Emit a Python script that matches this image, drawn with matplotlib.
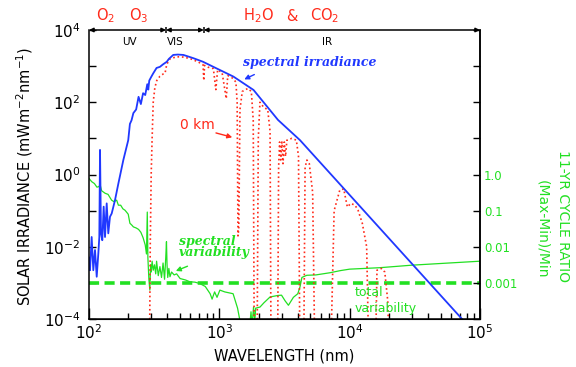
import numpy as np
import matplotlib
matplotlib.use("Agg")
import matplotlib.pyplot as plt
from matplotlib.ticker import FixedLocator, FuncFormatter, LogLocator, NullFormatter, NullLocator

# values (wavelength in nm, log10 of the quantity)
# spectral irradiance, mW m^-2 nm^-1
wl_irr = [100, 101.8, 104.8, 107.9, 111.2, 114.6, 117.9, 120, 121.5, 123.6, 126.5,
          129.6, 132.7, 136.7, 140.6, 144.9, 149.3, 158.3, 168, 183.4, 200, 206,
          212, 219, 230, 240, 250, 260, 270, 280, 285, 290, 300, 311, 330, 350,
          370, 395, 410, 443, 480, 530, 632, 750, 900, 1283, 1830, 2820, 4160,
          70300, 100000]
log_irr = [-2.3, -2.65, -1.73, -2.65, -2.09, -2.83, -2.19, -1.73, 0.68, -1.63, -1.82,
           -0.89, -1.73, -0.80, -1.63, -1.17, -1.08, -0.71, -0.25, 0.40, 0.95, 1.4,
           1.5, 1.7, 1.8, 2.15, 1.95, 2.25, 2.2, 2.5, 2.35, 2.6, 2.7, 2.8, 2.95, 2.98,
           3.05, 3.12, 3.2, 3.31, 3.32, 3.31, 3.22, 3.12, 2.98, 2.71, 2.34, 1.51, 0.95,
           -3.94, -4.55]

# irradiance at the surface (0 km)
wl_0km = [290, 295, 300, 305, 311, 320, 331, 350, 370, 383, 395, 418, 470, 530,
          595, 685, 750, 760, 770, 820, 900, 940, 970, 1050, 1130, 1160, 1250,
          1340, 1370, 1390, 1410, 1440, 1500, 1650, 1760, 1820, 1860, 1940, 1990,
          2050, 2200, 2350, 2450, 2500, 2790, 2850, 2900, 2960, 3020, 3080, 3150,
          3220, 3300, 3600, 3900, 4050, 4170, 4420, 4550, 4700, 4900, 5200, 5450,
          7050, 7600, 8400, 9000, 9600, 10200, 11000, 11600, 12500, 13500, 14200,
          15600, 16200, 17500, 18600, 19600, 20500]
log_0km = [-6, -2.0, 0.0, 1.0, 2.0, 2.4, 2.6, 2.72, 2.78, 2.8, 3.05, 3.2, 3.26, 3.25,
           3.21, 3.12, 3.04, 2.6, 3.02, 2.97, 2.93, 2.35, 2.9, 2.82, 2.1, 2.74, 2.68,
           2.56, 2.0, -1.7, -1.5, 1.8, 2.3, 2.38, 2.3, 1.5, -6, -6, 1.0,
           2.0, 1.85, 1.8, 1.2, -6, -6, 0.2, 0.9, 0.4, 0.9, 0.3, 0.9,
           0.5, 0.95, 1.0, 0.95, 0.5, -6, -6, 0.2, 0.4, 0.3, -0.5, -6,
           -6, -1.0, -0.43, -0.4, -0.9, -0.8, -0.85, -0.99, -1.35, -2.0, -6,
           -6, -2.65, -2.6, -2.7, -3.5, -6]

# 11-yr cycle ratio (Max-Min)/Min
wl_var = [100, 105, 110, 115, 118, 122, 125, 133, 140, 149, 155, 163, 168, 175, 182,
          189, 195, 200, 206, 213, 219, 230, 240, 250, 260, 270, 276, 280, 283, 288,
          293, 297, 300, 305, 311, 318, 325, 330, 340, 350, 360, 370, 380, 388, 393,
          397, 402, 410, 418, 430, 450, 470, 500, 550, 595, 650, 710, 780, 850, 880,
          920, 960, 1010, 1100, 1275, 1380, 1440, 1500, 1700, 1750, 1780, 1830, 1870,
          1900, 2050, 2200, 2450, 2800, 3000, 3200, 3390, 3700, 4000, 4160, 4300,
          4420, 4690, 5500, 7050, 8500, 10000, 17000, 30000, 100000]
log_var = [-0.11, -0.2, -0.25, -0.35, -0.34, -0.3, -0.45, -0.52, -0.55, -0.71, -0.75,
           -0.71, -0.85, -0.85, -0.95, -0.99, -1.05, -1.1, -1.35, -1.4, -1.45, -1.48,
           -1.52, -1.6, -1.75, -1.95, -2.2, -1.04, -2.3, -2.9, -3.2, -2.5, -2.7, -2.4,
           -2.65, -2.5, -2.75, -2.4, -2.8, -2.55, -2.85, -2.45, -2.9, -2.3, -1.86,
           -2.5, -2.85, -2.6, -2.83, -2.7, -2.78, -2.75, -2.88, -2.92, -2.97, -2.98,
           -3.02, -3.1, -3.3, -3.45, -3.25, -3.4, -3.2, -3.25, -3.3, -3.7, -4.05,
           -4.3, -4.3, -3.8, -4.2, -3.67, -4.1, -3.7, -3.67, -3.55, -3.39, -3.35,
           -3.34, -3.5, -3.62, -3.4, -3.3, -3.11, -2.85, -2.83, -2.79, -2.78, -2.72,
           -2.66, -2.62, -2.58, -2.51, -2.40]

total_var = 1e-3
band_edges = [100, 390, 760, 1e5]
band_names = ["UV", "VIS", "IR"]
band_pos = [206, 457, 6710]
absorbers = [r"O$_2$", r"O$_3$", r"H$_2$O", "&", r"CO$_2$"]
absorber_pos = [133, 240, 1996, 3614, 6414]
ratio_labels = {0: "1.0", -1: "0.1", -2: "0.01", -3: "0.001"}

BLUE = "#2038ff"
RED = "#ff2a1a"
GREEN = "#22e022"

fig = plt.figure(figsize=(5.76, 3.67), dpi=100)
ax = fig.add_axes([89 / 576, 1 - 319 / 367, 391 / 576, 289 / 367])

ax.plot(wl_var, np.power(10.0, log_var), color=GREEN, lw=0.9)
ax.axhline(total_var, color=GREEN, lw=2.6, ls=(0, (2.8, 1.5)))
ax.plot(wl_0km, np.power(10.0, log_0km), color=RED, lw=1.2, ls=":")
ax.plot(wl_irr, np.power(10.0, log_irr), color=BLUE, lw=1.3)

ax.set_xscale("log")
ax.set_yscale("log")
ax.set_xlim(100, 1e5)
ax.set_ylim(1e-4, 1e4)

decades = 10.0 ** np.arange(-4, 5)
ax.yaxis.set_major_locator(FixedLocator(decades))
ax.yaxis.set_minor_locator(NullLocator())
ax.yaxis.set_major_formatter(FuncFormatter(
    lambda v, p: f"$10^{{{int(round(np.log10(v)))}}}$" if int(round(np.log10(v))) % 2 == 0 else ""))
ax.xaxis.set_major_locator(LogLocator(base=10))
ax.xaxis.set_minor_locator(LogLocator(base=10, subs=range(2, 10)))
ax.xaxis.set_minor_formatter(NullFormatter())
ax.xaxis.set_major_formatter(FuncFormatter(lambda v, p: f"$10^{{{int(round(np.log10(v)))}}}$"))

ax.tick_params(axis="both", which="both", direction="in", top=False, right=False,
               labelsize=11, width=1.0)
ax.tick_params(axis="x", which="major", length=8, pad=3)
ax.tick_params(axis="x", which="minor", length=4.5)
ax.tick_params(axis="y", which="major", length=5, pad=6)
ax.spines["top"].set_visible(False)
for s in ("left", "bottom", "right"):
    ax.spines[s].set_linewidth(1.1)

ax2 = ax.twinx()
ax2.set_yscale("log")
ax2.set_ylim(1e-4, 1e4)
ax2.yaxis.set_major_locator(FixedLocator(decades))
ax2.yaxis.set_minor_locator(NullLocator())
ax2.yaxis.set_major_formatter(FuncFormatter(
    lambda v, p: ratio_labels.get(int(round(np.log10(v))), "")))
ax2.tick_params(axis="y", direction="in", length=5, width=1.0, pad=3,
                labelsize=8.5, labelcolor=GREEN)
ax2.spines["top"].set_visible(False)
ax2.spines["left"].set_visible(False)
ax2.spines["right"].set_linewidth(1.1)

# top wavelength band bar
for a, b in zip(band_edges[:-1], band_edges[1:]):
    ax.annotate("", xy=(b, 1e4), xytext=(a, 1e4), annotation_clip=False,
                arrowprops=dict(arrowstyle="<|-|>", color="k", lw=1.1,
                                shrinkA=0, shrinkB=0, mutation_scale=6))
ax.plot(band_edges[1:3], [1e4, 1e4], ls="", marker="|", ms=5, mew=1.1,
        color="k", clip_on=False)

trans = ax.get_xaxis_transform()
for name, x in zip(band_names, band_pos):
    ax.text(x, 0.958, name, transform=trans, ha="center", va="center", fontsize=7.5)
for name, x in zip(absorbers, absorber_pos):
    ax.text(x, 1.048, name, transform=trans, ha="center", va="center",
            fontsize=10.5, color=RED)

serif_it = dict(family="DejaVu Serif", style="italic", weight="bold")
ax.text(1520, 10 ** 3.09, "spectral irradiance", color=BLUE, fontsize=9,
        ha="left", va="center", **serif_it)
ax.annotate("", xy=(1486, 10 ** 2.60), xytext=(1940, 10 ** 2.80),
            arrowprops=dict(arrowstyle="-|>", color=BLUE, lw=1.0, mutation_scale=7))

ax.text(499, 10 ** 1.37, "0 km", color=RED, fontsize=10, ha="left", va="center")
ax.annotate("", xy=(1318, 10 ** 1.01), xytext=(899, 10 ** 1.17),
            arrowprops=dict(arrowstyle="-|>", color=RED, lw=1.0, mutation_scale=7))

ax.text(490, 10 ** -2.0, "spectral\nvariability", color=GREEN, fontsize=9,
        ha="left", va="center", linespacing=0.85, **serif_it)
ax.annotate("", xy=(443, 10 ** -2.70), xytext=(596, 10 ** -2.51),
            arrowprops=dict(arrowstyle="-|>", color=GREEN, lw=1.0, mutation_scale=7))

ax.text(11000, 10 ** -3.48, "total\nvariability", color=GREEN, fontsize=9,
        ha="left", va="center", linespacing=1.3)

fig.text(25 / 576, 1 - 177 / 367, r"SOLAR IRRADIANCE (mWm$^{-2}$nm$^{-1}$)",
         rotation=90, ha="center", va="center", fontsize=10.5)
fig.text(284 / 576, 1 - 356 / 367, "WAVELENGTH (nm)", ha="center", va="center",
         fontsize=10.5)
fig.text(563 / 576, 1 - 216 / 367, "11-YR CYCLE RATIO", rotation=-90, ha="center",
         va="center", fontsize=10, color=GREEN)
fig.text(542 / 576, 1 - 229 / 367, "(Max-Min)/Min", rotation=-90, ha="center",
         va="center", fontsize=10, color=GREEN)

fig.savefig("out.png", dpi=100)
